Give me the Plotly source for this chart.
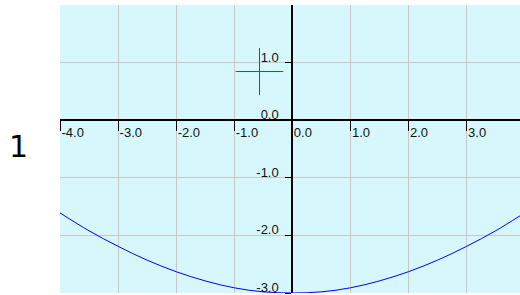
import plotly.graph_objects as go

# ---- data ----
curve_x = [-4.0, -3.5, -3.0, -2.5, -2.0, -1.5, -1.0, -0.5, 0.0, 0.5, 1.0, 1.5, 2.0, 2.5, 3.0, 3.5, 3.92]
curve_y = [-1.61, -1.92, -2.19, -2.43, -2.63, -2.79, -2.91, -2.98, -3.00, -2.98, -2.91, -2.79, -2.63, -2.43, -2.19, -1.92, -1.66]

cross_x = [-0.565]
cross_y = [0.845]
cross_half_x = 0.41
cross_half_y = 0.41

x_tickvals = [-4, -3, -2, -1, 0, 1, 2, 3]
x_ticktext = ["-4.0", "-3.0", "-2.0", "-1.0", "0.0", "1.0", "2.0", "3.0"]
y_tickvals = [-3, -2, -1, 0, 1]
y_ticktext = ["-3.0", "-2.0", "-1.0", "0.0", "1.0"]

side_label = "1"

x_range = [-4.0, 3.92]
y_range = [-3.0, 2.0]

fig = go.Figure()
fig.add_trace(go.Scatter(x=curve_x, y=curve_y, mode="lines",
                         line=dict(color="#0000ff", width=1, shape="spline"),
                         cliponaxis=False, hoverinfo="skip"))
# red crosshair drawn as symmetric error bars around the point
fig.add_trace(go.Scatter(x=cross_x, y=cross_y, mode="markers",
                         marker=dict(size=1, color="#ff0000", opacity=0),
                         error_x=dict(type="constant", value=cross_half_x, color="#ff0000",
                                      thickness=1, width=0),
                         error_y=dict(type="constant", value=cross_half_y, color="#ff0000",
                                      thickness=1, width=0),
                         hoverinfo="skip"))

tick_font = dict(family="Liberation Sans, Arial, sans-serif", size=13, color="#111111")

fig.update_layout(
    width=520, height=295,
    margin=dict(l=60, r=0, t=5, b=2, autoexpand=False),
    paper_bgcolor="white",
    plot_bgcolor="#d6f8fc",
    showlegend=False,
    xaxis=dict(range=x_range, tickvals=x_tickvals, ticktext=x_ticktext,
               anchor="free", position=(0 - y_range[0]) / (y_range[1] - y_range[0]),
               automargin=False,
               showline=True, linecolor="black", linewidth=2,
               ticks="outside", ticklen=10, tickwidth=1, tickcolor="black",
               ticklabelposition="outside right",
               showgrid=True, gridcolor="#c8c8c8", gridwidth=1,
               zeroline=False, tickfont=tick_font, fixedrange=True),
    yaxis=dict(range=y_range, tickvals=y_tickvals, ticktext=y_ticktext,
               anchor="free", position=(0 - x_range[0]) / (x_range[1] - x_range[0]),
               automargin=False,
               showline=True, linecolor="black", linewidth=2,
               ticks="outside", ticklen=6, tickwidth=1, tickcolor="black",
               ticklabelposition="outside top", ticklabelstandoff=10,
               ticklabelshift=4,
               showgrid=True, gridcolor="#c8c8c8", gridwidth=1,
               zeroline=False, tickfont=tick_font, fixedrange=True),
    annotations=[dict(text=side_label, xref="paper", yref="paper",
                      x=-0.09, y=0.509, xanchor="center", yanchor="middle",
                      showarrow=False,
                      font=dict(family="DejaVu Sans", size=30, color="black"))],
)

fig.write_html("out.html", config={"displayModeBar": False},
               post_script="document.body.style.margin='0';document.body.style.overflow='hidden';")
